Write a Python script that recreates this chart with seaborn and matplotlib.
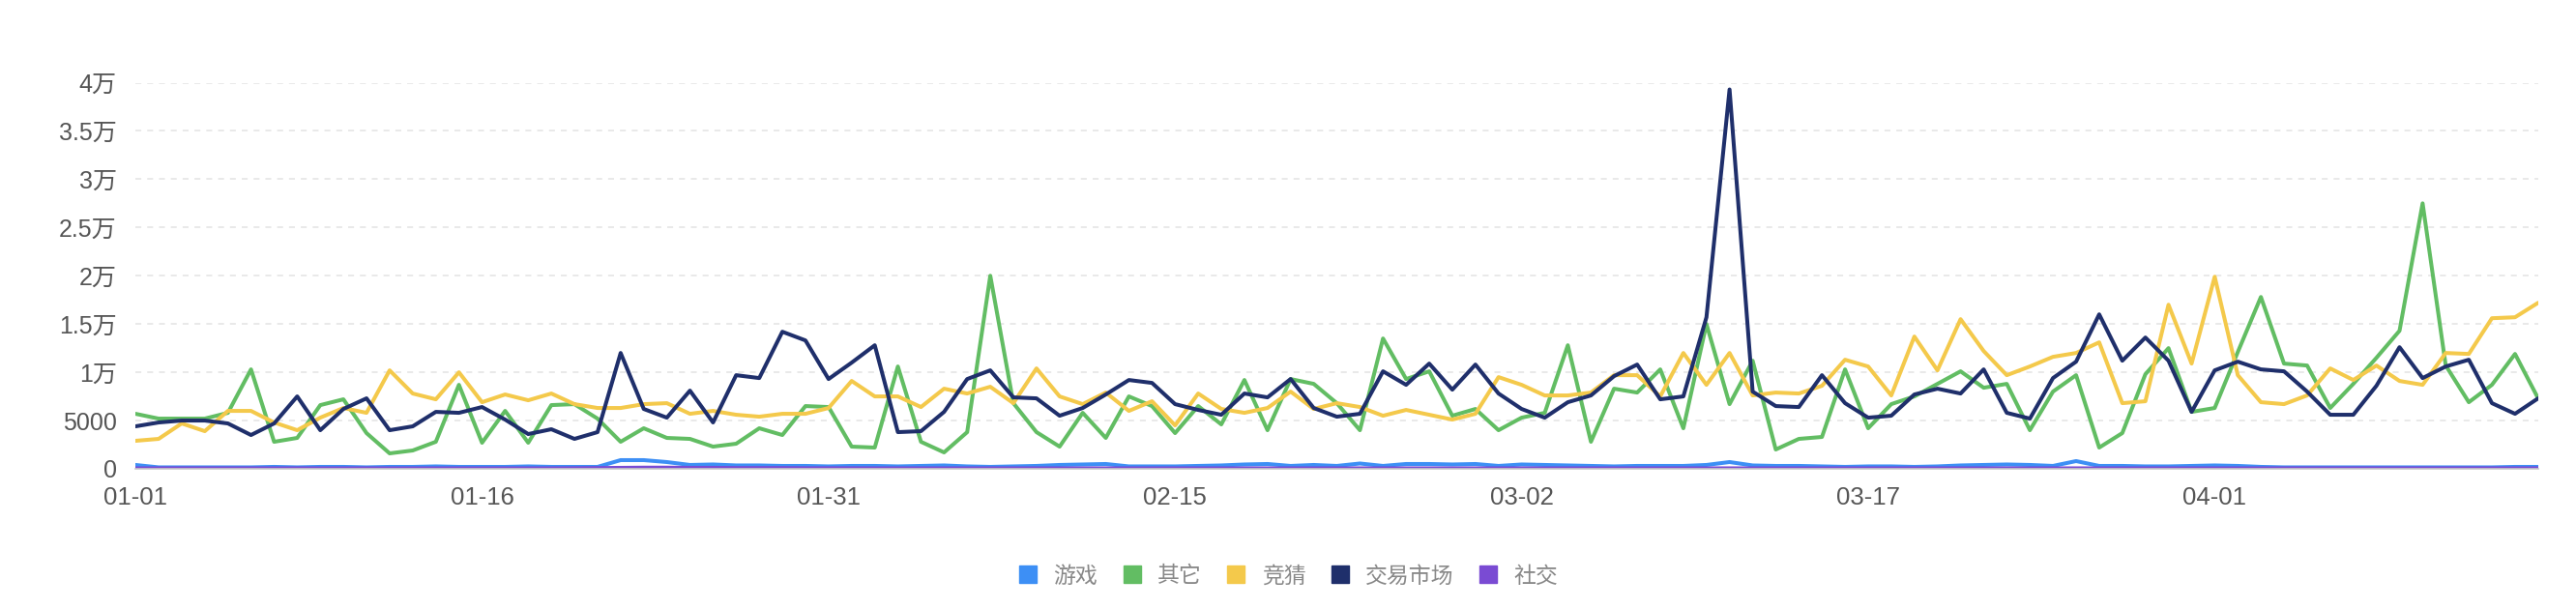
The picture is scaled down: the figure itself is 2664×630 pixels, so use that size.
import pandas as pd
import seaborn as sns
import matplotlib
matplotlib.use('Agg')
import matplotlib.pyplot as plt
from matplotlib.lines import Line2D

# 数据 (01-01 ~ 04-15, 每天一个点)
dates = pd.date_range('2023-01-01', '2023-04-15', freq='D')

game = [400, 150, 150, 150, 150, 150, 200, 150, 200, 200,
        150, 200, 200, 250, 200, 200, 200, 250, 200, 200,
        200, 900, 900, 700, 400, 450, 350, 350, 300, 300,
        250, 300, 300, 250, 300, 350, 250, 200, 250, 300,
        400, 450, 500, 250, 250, 250, 300, 350, 450, 500,
        300, 400, 300, 550, 300, 500, 500, 450, 500, 300,
        450, 400, 350, 300, 250, 300, 300, 300, 400, 700,
        350, 300, 300, 250, 200, 250, 250, 200, 250, 350,
        400, 450, 400, 300, 800, 300, 300, 250, 250, 300,
        350, 300, 200, 150, 150, 150, 150, 150, 150, 150,
        150, 150, 150, 200, 200]

other = [5700, 5200, 5200, 5200, 5800, 10300, 2800, 3200, 6600, 7200,
         3700, 1600, 1900, 2800, 8700, 2700, 6000, 2700, 6600, 6700,
         5200, 2800, 4200, 3200, 3100, 2300, 2600, 4200, 3500, 6500,
         6400, 2300, 2200, 10600, 2800, 1700, 3800, 20000, 6800, 3800,
         2300, 5800, 3200, 7500, 6500, 3700, 6500, 4600, 9200, 4000,
         9300, 8800, 6800, 4000, 13500, 9300, 10100, 5500, 6200, 4000,
         5300, 5800, 12800, 2800, 8300, 7900, 10300, 4200, 15000, 6700,
         11200, 2000, 3100, 3300, 10300, 4200, 6700, 7500, 8800, 10100,
         8400, 8800, 4000, 8000, 9700, 2200, 3700, 9800, 12500, 5900,
         6300, 12100, 17800, 10900, 10700, 6300, 8800, 11500, 14300, 27500,
         10700, 6900, 8700, 11900, 7300]

guess = [2900, 3100, 4700, 3900, 6000, 6000, 4800, 4000, 5300, 6300,
         5800, 10200, 7800, 7200, 10000, 6900, 7700, 7100, 7800, 6700,
         6300, 6300, 6700, 6800, 5700, 6000, 5600, 5400, 5700, 5700,
         6300, 9100, 7500, 7500, 6400, 8300, 7800, 8500, 6800, 10400,
         7500, 6700, 7900, 6000, 7000, 4500, 7800, 6200, 5800, 6300,
         8000, 6200, 6800, 6400, 5500, 6100, 5600, 5100, 5700, 9500,
         8700, 7600, 7600, 7900, 9700, 9700, 7500, 12000, 8700, 12000,
         7600, 7900, 7800, 8600, 11300, 10600, 7600, 13700, 10200, 15500,
         12200, 9700, 10600, 11600, 12000, 13100, 6800, 7000, 17000, 10900,
         19900, 9700, 6900, 6700, 7600, 10400, 9200, 10700, 9100, 8700,
         12000, 11900, 15600, 15700, 17200]

market = [4400, 4800, 5000, 5000, 4700, 3500, 4700, 7500, 4000, 6200,
          7300, 4000, 4400, 5900, 5800, 6400, 5100, 3600, 4100, 3100,
          3800, 12000, 6200, 5300, 8100, 4800, 9700, 9400, 14200, 13300,
          9300, 11000, 12800, 3800, 3900, 5900, 9300, 10200, 7400, 7300,
          5500, 6300, 7700, 9200, 8900, 6700, 6100, 5600, 7800, 7400,
          9300, 6300, 5400, 5700, 10100, 8700, 10900, 8200, 10800, 7800,
          6200, 5300, 6900, 7600, 9600, 10800, 7200, 7500, 15700, 39300,
          8000, 6500, 6400, 9700, 6800, 5300, 5500, 7700, 8300, 7800,
          10300, 5800, 5200, 9400, 11100, 16000, 11200, 13600, 11200, 5900,
          10200, 11100, 10300, 10100, 8000, 5600, 5600, 8600, 12600, 9400,
          10600, 11300, 6800, 5700, 7300]

social = [50, 50, 50, 50, 50, 50, 50, 50, 50, 50,
          50, 50, 50, 50, 50, 50, 50, 50, 50, 60,
          80, 100, 120, 120, 100, 100, 80, 80, 80, 60,
          60, 60, 50, 50, 50, 50, 50, 50, 50, 50,
          50, 50, 50, 50, 50, 50, 50, 50, 50, 50,
          50, 50, 50, 50, 50, 50, 50, 50, 50, 50,
          50, 50, 50, 50, 50, 50, 50, 50, 50, 50,
          50, 50, 50, 50, 50, 50, 50, 50, 50, 50,
          50, 50, 50, 50, 50, 50, 50, 50, 50, 50,
          50, 50, 50, 50, 50, 50, 50, 50, 50, 50,
          50, 50, 50, 50, 50]

series_names = ['游戏', '其它', '竞猜', '交易市场', '社交']
colors = ['#3d8ff5', '#62bd63', '#f4c94b', '#1f2f6b', '#7a4bd3']

x_ticks = ['2023-01-01', '2023-01-16', '2023-01-31', '2023-02-15',
           '2023-03-02', '2023-03-17', '2023-04-01']
x_tick_labels = ['01-01', '01-16', '01-31', '02-15', '03-02', '03-17', '04-01']
y_ticks = [0, 5000, 10000, 15000, 20000, 25000, 30000, 35000, 40000]
y_tick_labels = ['0', '5000', '1万', '1.5万', '2万', '2.5万', '3万', '3.5万', '4万']

df = pd.DataFrame({'date': dates, '游戏': game, '其它': other, '竞猜': guess,
                   '交易市场': market, '社交': social})
df_long = df.melt(id_vars='date', var_name='type', value_name='value')

# 绘图
sns.set_style('white')
plt.rcParams['font.family'] = ['Liberation Sans', 'Noto Sans CJK SC']

fig = plt.figure(figsize=(26.64, 6.3), dpi=100)
ax = fig.add_axes([0.0526, 0.2302, 0.9327, 0.634])

sns.lineplot(data=df_long, x='date', y='value', hue='type', hue_order=series_names,
             palette=colors, linewidth=2.9, legend=False, ax=ax)

ax.set_xlim(dates[0], dates[-1])
ax.set_ylim(0, 40000)
ax.set_xticks(pd.to_datetime(x_ticks))
ax.set_xticklabels(x_tick_labels)
ax.set_yticks(y_ticks)
ax.set_yticklabels(y_tick_labels)
ax.set_xlabel('')
ax.set_ylabel('')

ax.grid(axis='y', color='#e3e3e3', linestyle=(0, (4, 4)), linewidth=1.1)
ax.set_axisbelow(True)
for s in ['top', 'right', 'left']:
    ax.spines[s].set_visible(False)
ax.spines['bottom'].set_color('#c8c8c8')
ax.spines['bottom'].set_linewidth(1.2)

ax.tick_params(axis='x', length=4, width=1.2, color='#c8c8c8', pad=9,
               labelsize=18.5, labelcolor='#555555')
ax.tick_params(axis='y', length=0, pad=14, labelsize=18, labelcolor='#555555')

# 图例
handles = [Line2D([0], [0], marker='s', linestyle='', markersize=12.5,
                  markerfacecolor=c, markeredgecolor=c) for c in colors]
fig.legend(handles, series_names, loc='center', bbox_to_anchor=(0.5, 0.054),
           ncol=5, frameon=False, fontsize=16.5, labelcolor='#888888',
           handlelength=0.9, handletextpad=0.7, columnspacing=1.1)

plt.savefig('out.png', dpi=100)
